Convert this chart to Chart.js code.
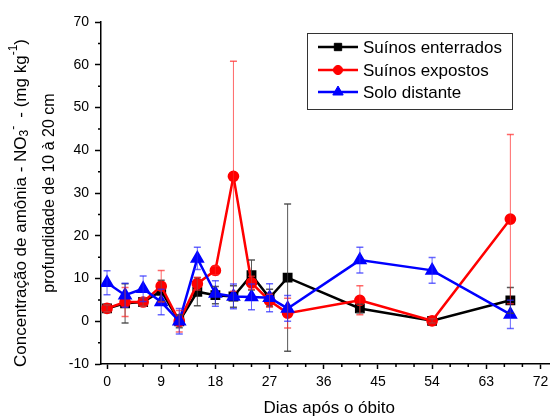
<!DOCTYPE html>
<html>
<head>
<meta charset="utf-8">
<script src="https://cdn.jsdelivr.net/npm/chart.js@4"></script>
<style>
  html, body { margin: 0; padding: 0; background: #fff; }
</style>
</head>
<body>
<canvas id="chart" width="558" height="417"></canvas>
<script>
const days = [0, 3, 6, 9, 12, 15, 18, 21, 24, 27, 30, 42, 54, 67];

const enterrados    = [3.0, 4.2, 4.5, 7.1, 0.0, 6.9, 6.1, 5.8, 10.8, 5.5, 10.2, 3.0, 0.1, 4.9];
const enterradosErr = [0.8, 4.6, 1.0, 2.5, 1.5, 3.3, 2.0, 2.5, 3.5, 2.0, 17.2, 1.0, 0.5, 3.0];
const expostos      = [3.0, 4.5, 4.5, 8.2, 0.0, 8.8, 11.9, 33.9, 9.0, 4.8, 1.9, 4.9, 0.1, 23.9];
const expostosErr   = [0.8, 3.4, 1.0, 3.7, 2.5, 1.5, 1.0, 26.9, 1.5, 1.5, 3.5, 3.4, 0.5, 19.8];
const solo          = [9.0, 6.1, 7.6, 4.5, 0.0, 14.7, 6.5, 5.8, 5.7, 5.5, 3.0, 14.3, 11.9, 1.6];
const soloErr       = [2.8, 2.8, 3.0, 3.0, 3.0, 2.6, 3.0, 2.9, 3.0, 3.3, 3.0, 3.0, 3.0, 3.3];

const xMajorTicks = [0, 9, 18, 27, 36, 45, 54, 63, 72];
const xMinorTicks = [3, 6, 12, 15, 21, 24, 30, 33, 39, 42, 48, 51, 57, 60, 66, 69];
const yMajorTicks = [-10, 0, 10, 20, 30, 40, 50, 60, 70];
const yMinorTicks = [-5, 5, 15, 25, 35, 45, 55, 65];

const FONT = '"Liberation Sans", Arial, sans-serif';

const toPoints = (vals) => days.map((d, i) => ({ x: d, y: vals[i] }));

// error bars, drawn through the scales
const errorBars = {
    id: 'errorBars',
    afterDatasetsDraw(chart) {
        const { ctx, scales: { x, y } } = chart;
        ctx.save();
        chart.data.datasets.forEach(ds => {
            ctx.strokeStyle = ds.errColor;
            ds.errors.forEach((e, i) => {
                const px = x.getPixelForValue(ds.data[i].x);
                const top = y.getPixelForValue(ds.data[i].y + e);
                const bot = y.getPixelForValue(ds.data[i].y - e);
                ctx.lineWidth = 1;
                ctx.beginPath();
                ctx.moveTo(px, top);
                ctx.lineTo(px, bot);
                ctx.stroke();
                ctx.lineWidth = 1.5;
                ctx.beginPath();
                ctx.moveTo(px - 3.5, top);
                ctx.lineTo(px + 3.5, top);
                ctx.moveTo(px - 3.5, bot);
                ctx.lineTo(px + 3.5, bot);
                ctx.stroke();
            });
        });
        ctx.restore();
    }
};

// minor ticks + axis titles + legend box
const extras = {
    id: 'extras',
    afterDraw(chart) {
        const { ctx, chartArea: area, scales: { x, y } } = chart;
        ctx.save();
        ctx.strokeStyle = '#000';
        ctx.lineWidth = 1.5;
        ctx.beginPath();
        xMinorTicks.forEach(v => {
            const px = x.getPixelForValue(v);
            ctx.moveTo(px, area.bottom);
            ctx.lineTo(px, area.bottom + 3);
        });
        yMinorTicks.forEach(v => {
            const py = y.getPixelForValue(v);
            ctx.moveTo(area.left, py);
            ctx.lineTo(area.left - 3, py);
        });
        ctx.stroke();

        ctx.fillStyle = '#000';
        ctx.textBaseline = 'middle';

        // x title
        ctx.font = '17px ' + FONT;
        ctx.textAlign = 'center';
        ctx.fillText('Dias após o óbito', (area.left + area.right) / 2 + 4, 408);

        // y title, two lines with sub/superscripts
        const line1 = [
            { t: 'Concentração de amônia - NO' },
            { t: '3', sub: true },
            { t: '- ', sup: true },
            { t: ' - (mg kg' },
            { t: '-1', sup: true },
            { t: ')' }
        ];
        const drawRich = (segs, cx, cy, size) => {
            ctx.save();
            ctx.translate(cx, cy);
            ctx.rotate(-Math.PI / 2);
            ctx.textAlign = 'left';
            let total = 0;
            segs.forEach(s => {
                ctx.font = (s.sub || s.sup ? '12px ' : size + 'px ') + FONT;
                s.w = ctx.measureText(s.t).width;
                total += s.w;
            });
            let pos = -total / 2;
            segs.forEach(s => {
                ctx.font = (s.sub || s.sup ? '12px ' : size + 'px ') + FONT;
                const dy = s.sub ? 4 : s.sup ? -7 : 0;
                ctx.fillText(s.t, pos, dy);
                pos += s.w;
            });
            ctx.restore();
        };
        drawRich(line1, 21, 203, 17);
        drawRich([{ t: 'profundidade de 10 à 20 cm' }], 50, 193, 16);

        // legend
        const lx = 307, ly = 33, lw = 205, lh = 76;
        ctx.fillStyle = '#fff';
        ctx.fillRect(lx, ly, lw, lh);
        ctx.strokeStyle = '#333';
        ctx.lineWidth = 1;
        ctx.strokeRect(lx + 0.5, ly + 0.5, lw, lh);
        const rows = [47, 70, 92];
        chart.data.datasets.forEach((ds, i) => {
            const yy = rows[i];
            ctx.strokeStyle = ds.borderColor;
            ctx.lineWidth = 2.5;
            ctx.beginPath();
            ctx.moveTo(318, yy);
            ctx.lineTo(358, yy);
            ctx.stroke();
            ctx.fillStyle = ds.backgroundColor;
            ctx.strokeStyle = ds.borderColor;
            ctx.lineWidth = 1;
            Chart.helpers.drawPoint(ctx, {
                pointStyle: ds.pointStyle,
                radius: ds.pointRadius,
                rotation: 0,
                borderWidth: 1
            }, 338, yy);
            ctx.fillStyle = '#000';
            ctx.font = '17px ' + FONT;
            ctx.textAlign = 'left';
            ctx.fillText(ds.label, 363, yy + 1);
        });
        ctx.restore();
    }
};

new Chart(document.getElementById('chart'), {
    type: 'line',
    data: {
        datasets: [
            {
                label: 'Suínos enterrados',
                data: toPoints(enterrados),
                errors: enterradosErr,
                errColor: 'rgba(60,60,60,0.85)',
                borderColor: '#000',
                backgroundColor: '#000',
                pointStyle: 'rect',
                pointRadius: 5.2,
                borderWidth: 2.5,
                order: 2
            },
            {
                label: 'Suínos expostos',
                data: toPoints(expostos),
                errors: expostosErr,
                errColor: 'rgba(255,40,40,0.7)',
                borderColor: '#ff0000',
                backgroundColor: '#ff0000',
                pointStyle: 'circle',
                pointRadius: 4.6,
                borderWidth: 2.5,
                order: 1
            },
            {
                label: 'Solo distante',
                data: toPoints(solo),
                errors: soloErr,
                errColor: 'rgba(40,40,255,0.7)',
                borderColor: '#0000ff',
                backgroundColor: '#0000ff',
                pointStyle: 'triangle',
                pointRadius: 6,
                borderWidth: 2.5,
                order: 0
            }
        ]
    },
    options: {
        responsive: false,
        animation: false,
        devicePixelRatio: 1,
        layout: { padding: { top: 22, right: 8, left: 0, bottom: 0 } },
        elements: {
            line: { tension: 0 },
            point: { borderWidth: 1 }
        },
        plugins: {
            legend: { display: false },
            tooltip: { enabled: false }
        },
        scales: {
            x: {
                type: 'linear',
                min: -1,
                max: 73.5,
                afterBuildTicks: (s) => { s.ticks = xMajorTicks.map(v => ({ value: v })); },
                afterFit: (s) => { s.height = 53; },
                border: { color: '#000', width: 1.5 },
                grid: { drawOnChartArea: false, tickLength: 5, tickColor: '#000', tickWidth: 1.5 },
                ticks: { color: '#000', font: { family: FONT, size: 14 }, padding: 5, maxRotation: 0, autoSkip: false }
            },
            y: {
                type: 'linear',
                min: -10,
                max: 70,
                afterBuildTicks: (s) => { s.ticks = yMajorTicks.map(v => ({ value: v })); },
                afterFit: (s) => { s.width = 101; },
                border: { color: '#000', width: 1.5 },
                grid: { drawOnChartArea: false, tickLength: 6, tickColor: '#000', tickWidth: 1.5 },
                ticks: { color: '#000', font: { family: FONT, size: 14 }, padding: 6, autoSkip: false }
            }
        }
    },
    plugins: [errorBars, extras]
});
</script>
</body>
</html>
